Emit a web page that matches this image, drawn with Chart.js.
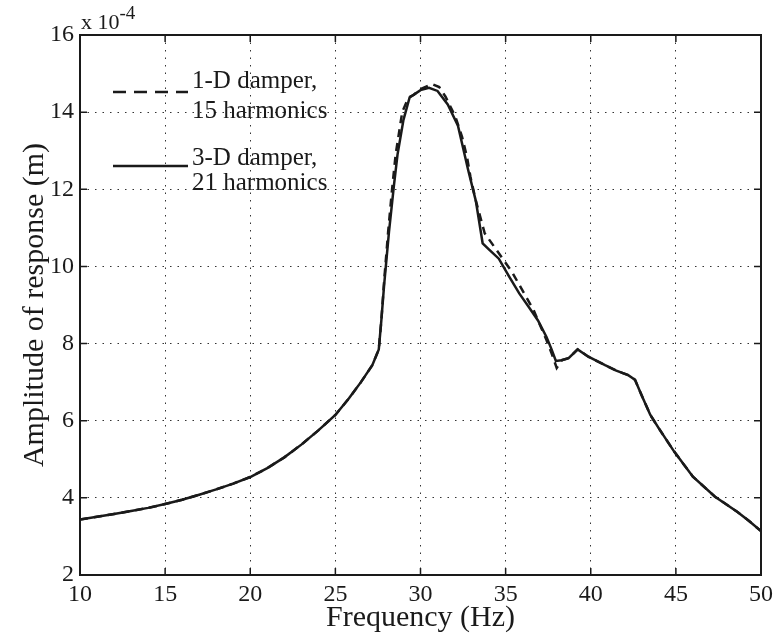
<!DOCTYPE html>
<html>
<head>
<meta charset="utf-8">
<title>Amplitude of response</title>
<script src="https://cdn.jsdelivr.net/npm/chart.js"></script>
<style>
    body { margin: 0; background: #fff; }
    canvas { display: block; }
</style>
</head>
<body>
<canvas id="responseChart" width="778" height="638"></canvas>

<script>
// values, amplitude in units of 1e-4 m
const freq3D = [10, 11, 12, 13, 14, 15, 16, 17, 18, 19, 20, 21, 22, 23, 24, 25, 25.8, 26.5, 27.17, 27.55,
    27.7, 27.86, 28.15, 28.44, 28.65, 29.0, 29.36, 29.7, 30.0, 30.5, 31.0, 31.6, 32.2, 32.8, 33.25, 33.65,
    34.0, 34.6, 35.2, 35.8, 36.4, 36.9, 37.4, 37.7, 37.95, 38.3, 38.7, 39.23, 39.86, 40.84, 41.5,
    42.2, 42.6, 43.0, 43.5, 44.0, 44.9, 46.0, 47.3, 48.6, 49.3, 50];
const amp3D = [3.44, 3.51, 3.58, 3.66, 3.74, 3.84, 3.95, 4.08, 4.22, 4.37, 4.54, 4.77, 5.05, 5.38, 5.75, 6.15, 6.58, 7.0, 7.44, 7.85,
    8.6, 9.5, 10.9, 12.1, 12.9, 13.8, 14.38, 14.48, 14.57, 14.63, 14.55, 14.2, 13.65, 12.5, 11.7, 10.6,
    10.45, 10.2, 9.74, 9.3, 8.92, 8.6, 8.17, 7.85, 7.55, 7.57, 7.62, 7.85, 7.66, 7.44, 7.3,
    7.18, 7.06, 6.65, 6.15, 5.8, 5.2, 4.55, 4.03, 3.64, 3.4, 3.14];

const freq1D = [10, 11, 12, 13, 14, 15, 16, 17, 18, 19, 20, 21, 22, 23, 24, 25, 25.8, 26.5, 27.17, 27.55,
    27.7, 27.86, 28.1, 28.33, 28.54, 28.93, 29.3, 29.61, 30.0, 30.68, 31.1, 31.47, 32.05, 32.44, 32.73,
    32.93, 33.24, 33.77, 35.37, 36.64, 37.4, 37.7, 38.0, 38.3, 38.7, 39.23, 39.86, 40.84, 41.5,
    42.2, 42.6, 43.0, 43.5, 44.0, 44.9, 46.0, 47.3, 48.6, 49.3, 50];
const amp1D = [3.44, 3.51, 3.58, 3.66, 3.74, 3.84, 3.95, 4.08, 4.22, 4.37, 4.54, 4.77, 5.05, 5.38, 5.75, 6.15, 6.58, 7.0, 7.44, 7.85,
    8.6, 9.6, 10.9, 12.0, 12.9, 14.01, 14.38, 14.45, 14.6, 14.73, 14.65, 14.4, 13.88, 13.36, 12.84,
    12.33, 11.72, 10.86, 9.86, 8.87, 8.09, 7.75, 7.37, 7.57, 7.62, 7.85, 7.66, 7.44, 7.3,
    7.18, 7.06, 6.65, 6.15, 5.8, 5.2, 4.55, 4.03, 3.64, 3.4, 3.14];

const xTicks = [10, 15, 20, 25, 30, 35, 40, 45, 50];
const yTicks = [2, 4, 6, 8, 10, 12, 14, 16];
const legendLines = [['1-D damper,', '15 harmonics'], ['3-D damper,', '21 harmonics']];

const serif = '"Liberation Serif", "Times New Roman", serif';
const ink = '#1a1a1a';

// frame, inward ticks, exponent note and legend (MATLAB style)
const matlabFrame = {
    id: 'matlabFrame',
    afterDraw(chart) {
        const ctx = chart.ctx;
        const a = chart.chartArea;
        const xs = chart.scales.x, ys = chart.scales.y;
        const tl = 7;
        ctx.save();
        ctx.strokeStyle = ink;
        ctx.lineWidth = 1.5;
        ctx.beginPath();
        xTicks.forEach(v => {
            const px = xs.getPixelForValue(v);
            ctx.moveTo(px, a.bottom); ctx.lineTo(px, a.bottom - tl);
            ctx.moveTo(px, a.top); ctx.lineTo(px, a.top + tl);
        });
        yTicks.forEach(v => {
            const py = ys.getPixelForValue(v);
            ctx.moveTo(a.left, py); ctx.lineTo(a.left + tl, py);
            ctx.moveTo(a.right, py); ctx.lineTo(a.right - tl, py);
        });
        ctx.stroke();
        ctx.lineWidth = 2;
        ctx.strokeRect(a.left, a.top, a.right - a.left, a.bottom - a.top);

        // x 10^-4
        ctx.fillStyle = ink;
        ctx.textBaseline = 'alphabetic';
        ctx.textAlign = 'left';
        ctx.font = '22px ' + serif;
        ctx.fillText('x 10', a.left + 1, a.top - 6);
        const w = ctx.measureText('x 10').width;
        ctx.font = '19px ' + serif;
        ctx.fillText('-4', a.left + 1 + w, a.top - 16);

        // legend
        const ds = chart.data.datasets;
        const rows = [{y: 92, t1: 88, t2: 118}, {y: 166, t1: 165, t2: 190}];
        ctx.font = '25px ' + serif;
        rows.forEach((r, i) => {
            ctx.strokeStyle = ds[i].borderColor;
            ctx.lineWidth = ds[i].borderWidth;
            ctx.setLineDash(i === 0 ? [13, 8] : []);
            ctx.beginPath();
            ctx.moveTo(113, r.y);
            ctx.lineTo(188, r.y);
            ctx.stroke();
            ctx.setLineDash([]);
            ctx.fillText(legendLines[i][0], 192, r.t1);
            ctx.fillText(legendLines[i][1], 192, r.t2);
        });
        ctx.restore();
    }
};

const ctx = document.getElementById('responseChart').getContext('2d');
const chart = new Chart(ctx, {
    type: 'line',
    data: {
        datasets: [
            {
                label: '1-D damper, 15 harmonics',
                data: freq1D.map((f, i) => ({x: f, y: amp1D[i]})),
                borderColor: ink,
                borderWidth: 2.5,
                borderDash: [8, 6],
                pointRadius: 0,
                tension: 0,
                fill: false
            },
            {
                label: '3-D damper, 21 harmonics',
                data: freq3D.map((f, i) => ({x: f, y: amp3D[i]})),
                borderColor: ink,
                borderWidth: 2.5,
                pointRadius: 0,
                tension: 0,
                fill: false
            }
        ]
    },
    options: {
        responsive: false,
        animation: false,
        devicePixelRatio: 1,
        layout: { padding: { top: 35, right: 15, left: 0, bottom: 0 } },
        plugins: {
            legend: { display: false },
            tooltip: { enabled: false }
        },
        scales: {
            x: {
                type: 'linear',
                min: 10,
                max: 50,
                afterFit: s => { s.height = 63; },
                afterBuildTicks: s => { s.ticks = xTicks.map(v => ({value: v})); },
                ticks: {
                    font: { family: serif, size: 24 },
                    color: ink,
                    padding: 5,
                    maxRotation: 0
                },
                grid: { color: '#333', lineWidth: 1, drawTicks: false },
                border: { display: false, dash: [1.5, 6] },
                title: {
                    display: true,
                    text: 'Frequency (Hz)',
                    font: { family: serif, size: 30 },
                    color: ink,
                    padding: { top: 0, bottom: 2 }
                }
            },
            y: {
                min: 2,
                max: 16,
                afterFit: s => { s.width = 80; },
                afterBuildTicks: s => { s.ticks = yTicks.map(v => ({value: v})); },
                ticks: {
                    font: { family: serif, size: 24 },
                    color: ink,
                    padding: 6
                },
                grid: { color: '#333', lineWidth: 1, drawTicks: false },
                border: { display: false, dash: [1.5, 6] },
                title: {
                    display: true,
                    text: 'Amplitude of response (m)',
                    font: { family: serif, size: 30 },
                    color: ink,
                    padding: { top: 17, bottom: 0 }
                }
            }
        }
    },
    plugins: [matlabFrame]
});
</script>
</body>
</html>
